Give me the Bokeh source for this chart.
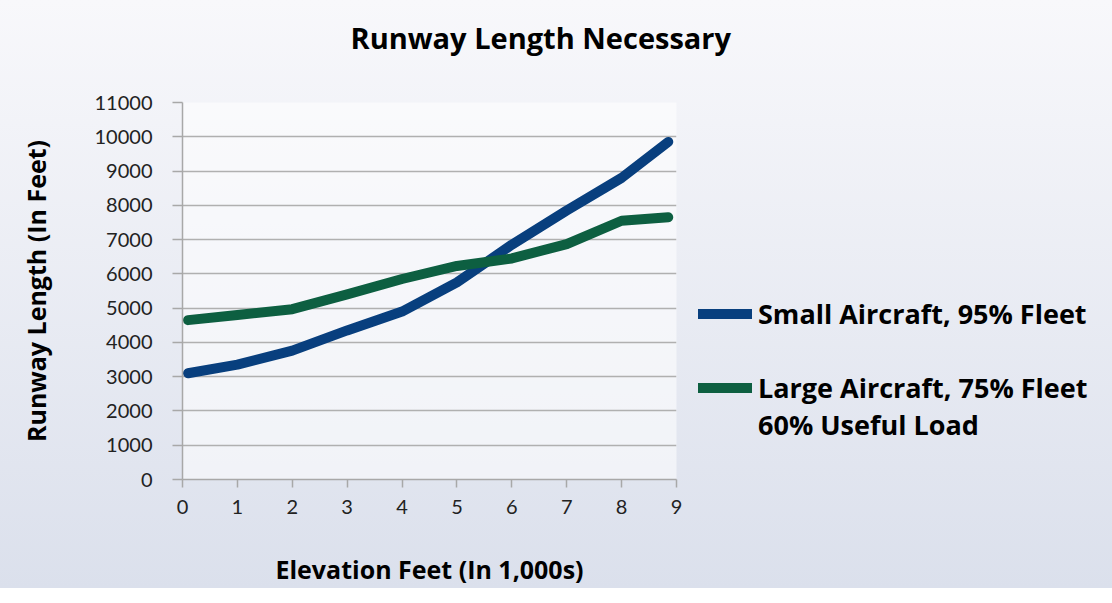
from bokeh.plotting import figure
from bokeh.models import FixedTicker, Legend, LegendItem, Title
from bokeh.embed import file_html
from bokeh.resources import INLINE

# Data
elevation = [0.1, 1, 2, 3, 4, 5, 6, 7, 8, 8.85]
small_aircraft = [3100, 3350, 3760, 4350, 4900, 5750, 6850, 7850, 8800, 9850]
large_aircraft = [4650, 4800, 4970, 5400, 5850, 6230, 6450, 6870, 7550, 7650]
x_ticks = [0, 1, 2, 3, 4, 5, 6, 7, 8, 9]
y_ticks = list(range(0, 11001, 1000))
series_labels = ["Small Aircraft, 95% Fleet", " \nLarge Aircraft, 75% Fleet\n60% Useful Load"]

BLUE = "#083f7e"
GREEN = "#0d5f41"
TICK_FONT = "Lato"
BOLD_FONT = "Open Sans"

p = figure(frame_width=494, frame_height=377, x_range=(0, 9), y_range=(0, 11000),
           output_backend="svg", toolbar_location=None,
           min_border_left=182, min_border_right=0,
           min_border_top=102, min_border_bottom=108)

p.styles = {"background-image": "linear-gradient(#f8f8fb, #dbe0ec)"}
p.border_fill_color = None
p.background_fill_color = "white"
p.background_fill_alpha = 0.55
p.outline_line_color = None

r1 = p.line(elevation, small_aircraft, line_color=BLUE, line_width=10, line_cap="round", line_join="round")
r2 = p.line(elevation, large_aircraft, line_color=GREEN, line_width=10, line_cap="round", line_join="round")

# spacer between frame and title
p.add_layout(Title(text=" ", text_font_size="10px", standoff=33), "above")

# title
p.title.text = "Runway Length Necessary"
p.title.text_font = BOLD_FONT
p.title.text_font_style = "bold"
p.title.text_font_size = "29px"
p.title.text_color = "black"
p.title.align = "left"
p.title.offset = 168
p.title.standoff = 0

# axes
p.xaxis.ticker = FixedTicker(ticks=x_ticks)
p.yaxis.ticker = FixedTicker(ticks=y_ticks)
for ax in (p.xaxis[0], p.yaxis[0]):
    ax.axis_line_color = "#a8a8a8"
    ax.axis_line_width = 1.5
    ax.major_tick_line_color = "#a8a8a8"
    ax.major_tick_line_width = 1.5
    ax.major_tick_in = 0
    ax.minor_tick_line_color = None
    ax.major_label_text_font = TICK_FONT
    ax.major_label_text_font_size = "20px"
    ax.major_label_text_color = "#222222"
    ax.axis_label_text_font = BOLD_FONT
    ax.axis_label_text_font_style = "bold"
    ax.axis_label_text_font_size = "25px"
    ax.axis_label_text_color = "black"
p.yaxis.major_tick_out = 10
p.yaxis.major_label_standoff = 20
p.xaxis.major_tick_out = 8
p.xaxis.major_label_standoff = 12

p.xaxis.axis_label = "Elevation Feet (In 1,000s)"
p.xaxis.axis_label_standoff = 35
p.yaxis.axis_label = "Runway Length (In Feet)"
p.yaxis.axis_label_standoff = 39

p.xgrid.grid_line_color = None
p.ygrid.grid_line_color = "#b0b0b0"
p.ygrid.grid_line_width = 1.5

legend = Legend(items=[LegendItem(label=series_labels[0], renderers=[r1]),
                       LegendItem(label=series_labels[1], renderers=[r2])],
                location=(22, 36), orientation="vertical",
                glyph_width=54, glyph_height=27, label_height=27, spacing=0,
                label_standoff=6, padding=0, margin=0,
                border_line_color=None, background_fill_alpha=0,
                label_text_font=BOLD_FONT, label_text_font_style="bold",
                label_text_font_size="27px", label_text_line_height=0.94,
                label_text_color="black")
p.add_layout(legend, "right")

open("out.html", "w").write(file_html(p, INLINE))
